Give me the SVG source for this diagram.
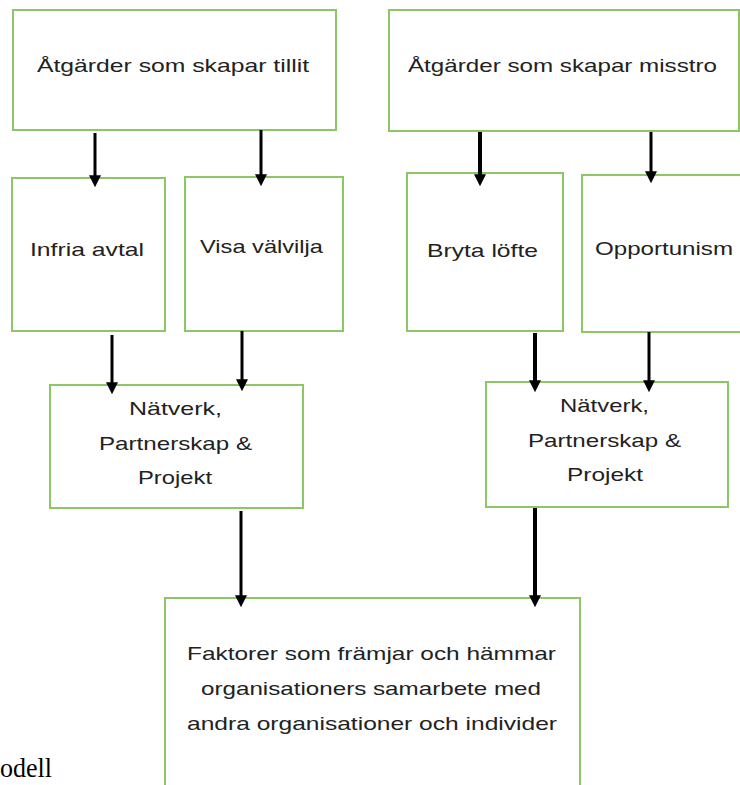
<svg xmlns="http://www.w3.org/2000/svg" width="740" height="785" viewBox="0 0 740 785">
<defs>
<marker id="ah" markerUnits="userSpaceOnUse" markerWidth="12" markerHeight="12" viewBox="0 0 10 10" refX="4" refY="5" orient="auto">
<path d="M0,0 L10,5 L0,10 z" fill="#000"/>
</marker>
<style>
.box{fill:#fff;stroke:#8cc665;stroke-width:2}
.t{font-family:"Liberation Sans",Arial,sans-serif;font-size:19px;fill:#222}
.c{stroke:#000;stroke-width:3;fill:none;marker-end:url(#ah)}
.k{stroke-width:4}
</style>
</defs>
<rect width="740" height="785" fill="#fff"/>
<g id="n-tillit">
<rect class="box" x="13" y="10" width="323" height="120"/>
<text class="t" x="37" y="72" textLength="272" lengthAdjust="spacingAndGlyphs">Åtgärder som skapar tillit</text>
</g>
<g id="n-misstro">
<rect class="box" x="389" y="10" width="350" height="121"/>
<text class="t" x="408" y="72" textLength="309" lengthAdjust="spacingAndGlyphs">Åtgärder som skapar misstro</text>
</g>
<g id="n-infria">
<rect class="box" x="12" y="178" width="153" height="153"/>
<text class="t" x="30" y="256" textLength="114" lengthAdjust="spacingAndGlyphs">Infria avtal</text>
</g>
<g id="n-visa">
<rect class="box" x="185" y="177" width="158" height="154"/>
<text class="t" x="200" y="253" textLength="123" lengthAdjust="spacingAndGlyphs">Visa välvilja</text>
</g>
<g id="n-bryta">
<rect class="box" x="407" y="173" width="156" height="158"/>
<text class="t" x="427" y="257" textLength="111" lengthAdjust="spacingAndGlyphs">Bryta löfte</text>
</g>
<g id="n-opportunism">
<rect class="box" x="582" y="175" width="170" height="157"/>
<text class="t" x="595" y="255" textLength="138" lengthAdjust="spacingAndGlyphs">Opportunism</text>
</g>
<g id="n-natverk1">
<rect class="box" x="50" y="385" width="253" height="123"/>
<text class="t" x="129" y="415" textLength="93" lengthAdjust="spacingAndGlyphs">Nätverk,</text>
<text class="t" x="99" y="450" textLength="153" lengthAdjust="spacingAndGlyphs">Partnerskap &amp;</text>
<text class="t" x="138" y="484" textLength="74" lengthAdjust="spacingAndGlyphs">Projekt</text>
</g>
<g id="n-natverk2">
<rect class="box" x="486" y="382" width="242" height="125"/>
<text class="t" x="560" y="412" textLength="89" lengthAdjust="spacingAndGlyphs">Nätverk,</text>
<text class="t" x="528" y="447" textLength="153" lengthAdjust="spacingAndGlyphs">Partnerskap &amp;</text>
<text class="t" x="567" y="481" textLength="76" lengthAdjust="spacingAndGlyphs">Projekt</text>
</g>
<g id="n-faktorer">
<rect class="box" x="165" y="598" width="415" height="200"/>
<text class="t" x="187" y="660" textLength="369" lengthAdjust="spacingAndGlyphs">Faktorer som främjar och hämmar</text>
<text class="t" x="201" y="695" textLength="340" lengthAdjust="spacingAndGlyphs">organisationers samarbete med</text>
<text class="t" x="187" y="730" textLength="370" lengthAdjust="spacingAndGlyphs">andra organisationer och individer</text>
</g>
<text x="0" y="777" font-family="'Liberation Serif','Times New Roman',serif" font-size="28" fill="#000" textLength="52" lengthAdjust="spacingAndGlyphs">odell</text>
<g id="connectors">
<line class="c" x1="95" y1="133" x2="95" y2="180"/>
<line class="c" x1="261" y1="130" x2="261" y2="179"/>
<line class="c k" x1="480" y1="132" x2="480" y2="179"/>
<line class="c" x1="651" y1="132" x2="651" y2="176"/>
<line class="c" x1="112" y1="335" x2="112" y2="387"/>
<line class="c" x1="242" y1="331" x2="242" y2="384"/>
<line class="c k" x1="535" y1="333" x2="535" y2="385"/>
<line class="c" x1="649" y1="332" x2="649" y2="385"/>
<line class="c" x1="241" y1="511" x2="241" y2="600"/>
<line class="c k" x1="535" y1="508" x2="535" y2="600"/>
</g>
</svg>
